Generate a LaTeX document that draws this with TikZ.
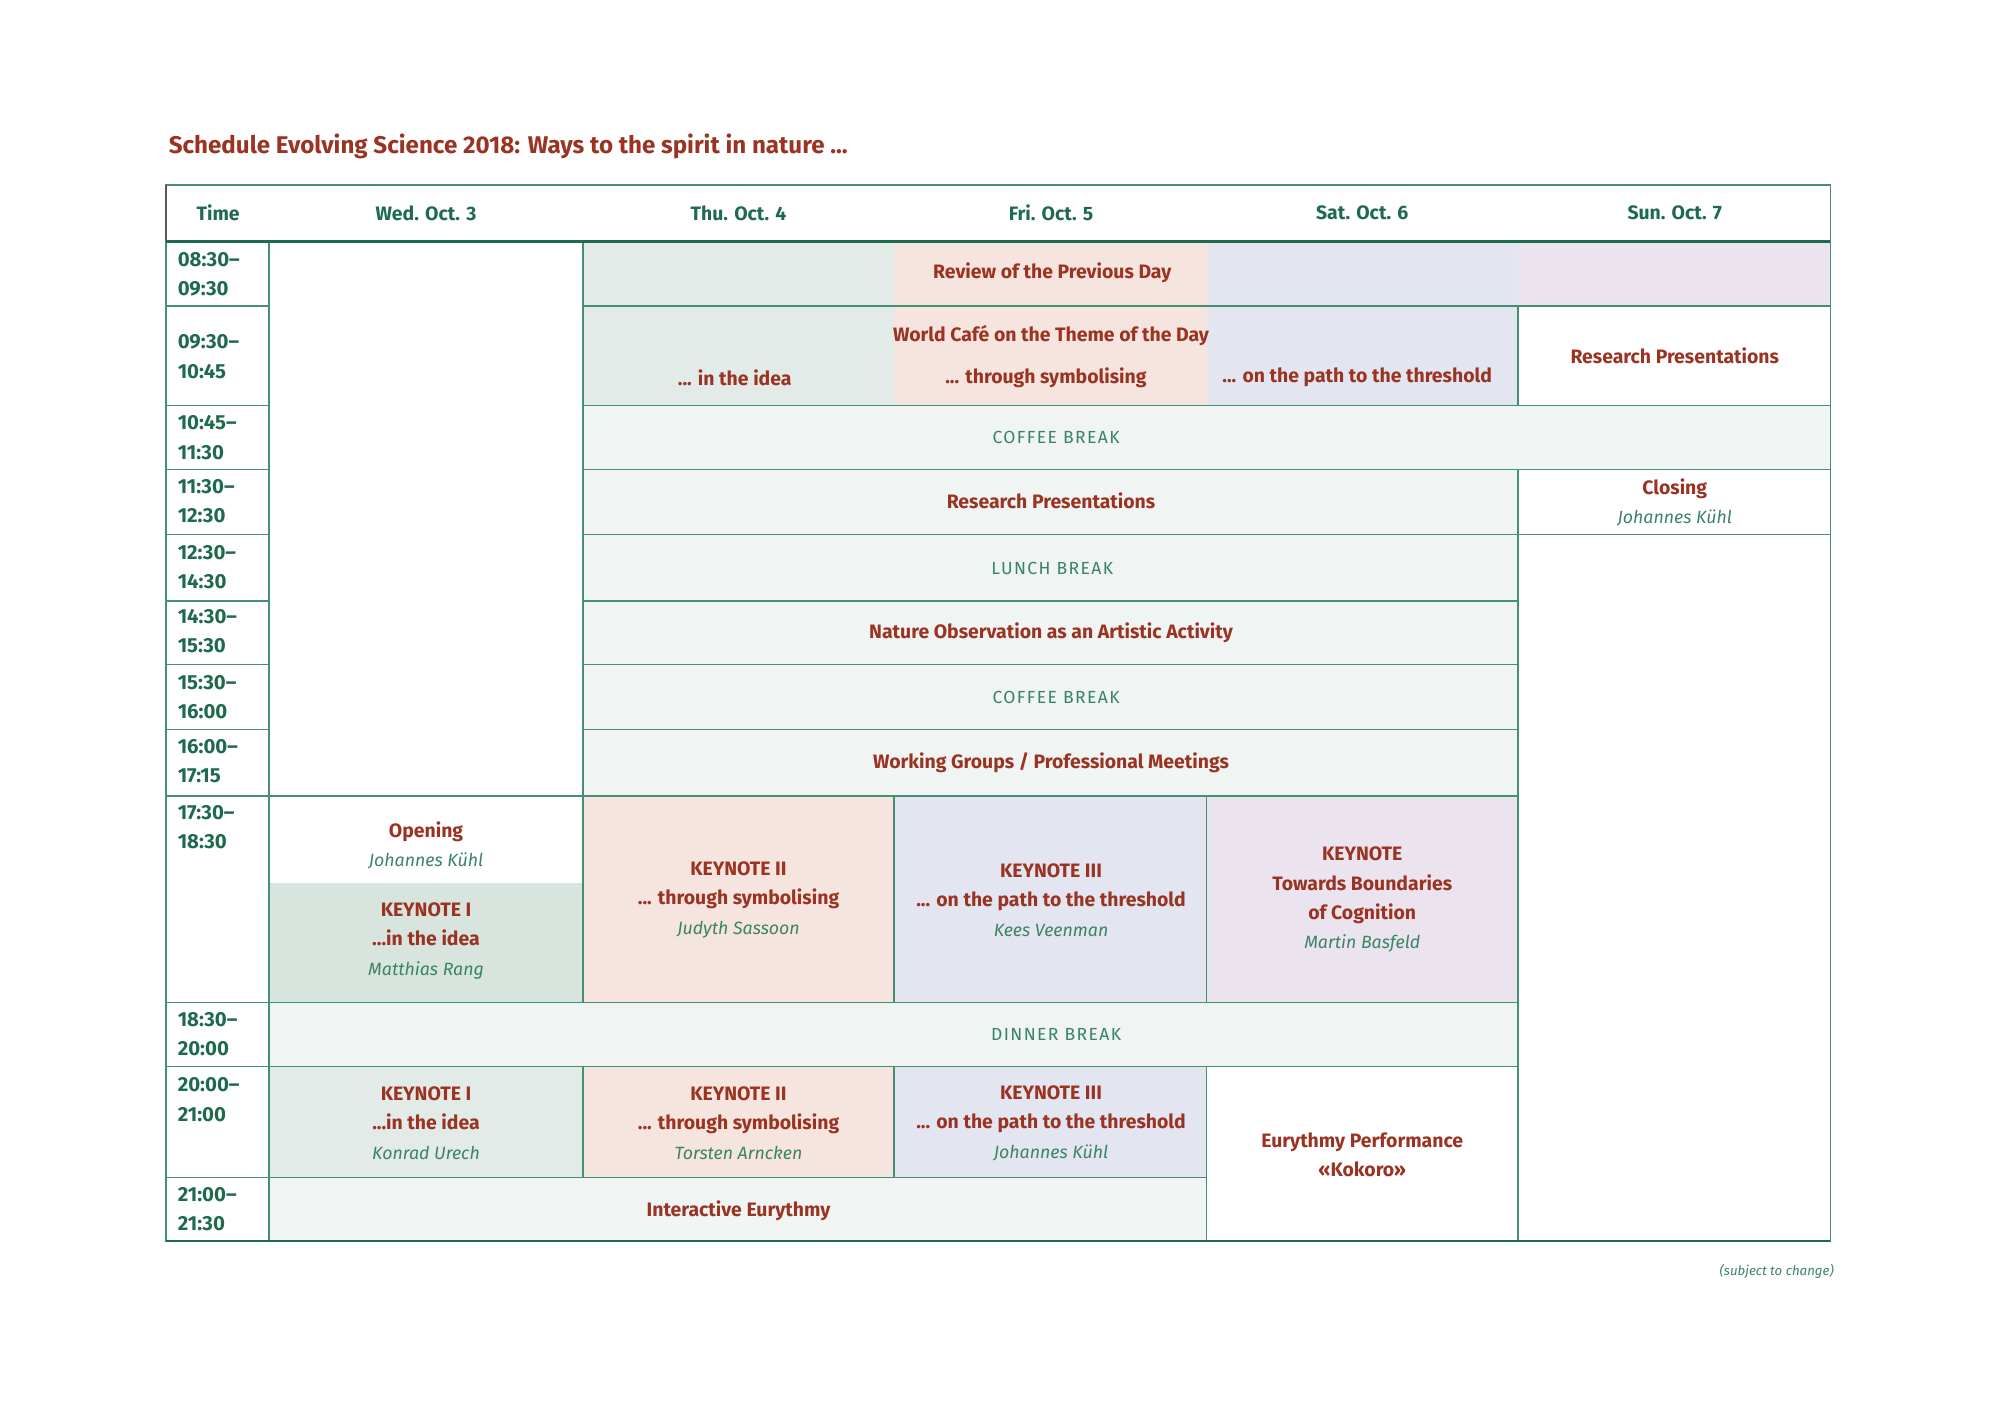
\documentclass[tikz,border=0pt]{standalone}
\usepackage{fontspec}
\setmainfont{Fira Sans}
\newfontfamily\pausefont{Fira Sans}[LetterSpace=8]
\usepackage{tikz}

\definecolor{gridgreen}{HTML}{458F75}
\definecolor{headgreen}{HTML}{1E6A4C}
\definecolor{textred}{HTML}{9A3322}
\definecolor{textgreen}{HTML}{3A8466}
\definecolor{ideafill}{HTML}{E2EBE7}
\definecolor{keyonefill}{HTML}{D8E4DE}
\definecolor{symbfill}{HTML}{F6E4DE}
\definecolor{pathfill}{HTML}{E3E6F0}
\definecolor{cognfill}{HTML}{EBE3ED}
\definecolor{breakfill}{HTML}{F0F4F2}

\newcommand\cellfont{\fontsize{8.2}{12.4}\selectfont}
\newcommand\spkr[1]{{\fontsize{7.5}{12.4}\selectfont\color{textgreen}\mdseries\itshape #1}}

\begin{document}
\begin{tikzpicture}
[
x=0.018941cm, y=-0.018941cm,
every node/.style={inner sep=0pt, align=center, font=\cellfont},
grid/.style={draw=gridgreen, line width=0.65pt},
head/.style={text=headgreen, font=\cellfont\bfseries},
hour/.style={text=headgreen, anchor=west, align=left, font=\fontsize{8.6}{12.4}\selectfont\bfseries},
event/.style={text=textred, font=\cellfont\bfseries},
pause/.style={text=textgreen, font=\fontsize{7.4}{12}\pausefont}
]
\useasboundingbox (0,0) rectangle (1568,1108.6);

% fills
\fill[ideafill] (457,189) rectangle (701,318);
\fill[symbfill] (701,189) rectangle (946,318);
\fill[pathfill] (946,189) rectangle (1190,318);
\fill[cognfill] (1190,189) rectangle (1435,240);
\fill[breakfill] (457,318) rectangle (1435,368);
\fill[breakfill] (457,368) rectangle (1190,624);
\fill[keyonefill] (211,692) rectangle (457,786);
\fill[symbfill] (457,624) rectangle (701,786);
\fill[pathfill] (701,624) rectangle (946,786);
\fill[cognfill] (946,624) rectangle (1190,786);
\fill[breakfill] (211,786) rectangle (1190,836);
\fill[ideafill] (211,836) rectangle (457,923);
\fill[symbfill] (457,836) rectangle (701,923);
\fill[pathfill] (701,836) rectangle (946,923);
\fill[breakfill] (211,923) rectangle (946,973);

% lines
\foreach \y in {240,318,368,419,471,521,572,624,786,836,923}
  \draw[grid] (130,\y) -- (211,\y);
\foreach \y in {240,318,368,419}
  \draw[grid] (457,\y) -- (1435,\y);
\foreach \y in {471,521,572}
  \draw[grid] (457,\y) -- (1190,\y);
\foreach \y in {624,786,836}
  \draw[grid] (211,\y) -- (1190,\y);
\draw[grid] (211,923) -- (946,923);
\draw[grid] (211,189) -- (211,973);
\draw[grid] (457,189) -- (457,786) (457,836) -- (457,923);
\draw[grid] (701,624) -- (701,786) (701,836) -- (701,923);
\draw[grid] (946,624) -- (946,786) (946,836) -- (946,973);
\draw[grid] (1190,240) -- (1190,318) (1190,368) -- (1190,973);
\draw[grid] (130,145) rectangle (1435,973);
\draw[gray!70!black, line width=0.65pt] (130,145) -- (130,189);
\draw[headgreen, line width=1.3pt] (130,189) -- (1435,189);
\draw[headgreen, line width=1pt] (130,973) -- (1435,973);

% title
\node (title) [anchor=west, text=textred, font=\fontsize{10.2}{12}\selectfont\bfseries] at (132,115)
  {Schedule Evolving Science 2018: Ways to the spirit in nature ...};

% header
\node (h-time) [head] at (171,167) {Time};
\node (h-wed) [head] at (334,167) {Wed. Oct. 3};
\node (h-thu) [head] at (579,167) {Thu. Oct. 4};
\node (h-fri) [head] at (824,167) {Fri. Oct. 5};
\node (h-sat) [head] at (1068,167) {Sat. Oct. 6};
\node (h-sun) [head] at (1313,167) {Sun. Oct. 7};

% times
\node (t1) [hour] at (139,215) {08:30--\\09:30};
\node (t2) [hour] at (139,279.5) {09:30--\\10:45};
\node (t3) [hour] at (139,343) {10:45--\\11:30};
\node (t4) [hour] at (139,393) {11:30--\\12:30};
\node (t5) [hour] at (139,444.5) {12:30--\\14:30};
\node (t6) [hour] at (139,495) {14:30--\\15:30};
\node (t7) [hour] at (139,546.5) {15:30--\\16:00};
\node (t8) [hour] at (139,596.5) {16:00--\\17:15};
\node (t9) [hour] at (139,648.5) {17:30--\\18:30};
\node (t10) [hour] at (139,811) {18:30--\\20:00};
\node (t11) [hour] at (139,862) {20:00--\\21:00};
\node (t12) [hour] at (139,948) {21:00--\\21:30};

% morning
\node (review) [event] at (825,214) {Review of the Previous Day};
\node (cafe) [event] at (824,263) {World Café on the Theme of the Day};
\node (cafe-thu) [event] at (576,296) {... in the idea};
\node (cafe-fri) [event] at (820,296) {... through symbolising};
\node (cafe-sat) [event] at (1064,296) {... on the path to the threshold};
\node (research-sun) [event] at (1313,279) {Research Presentations};
\node (coffee1) [pause] at (828,343) {COFFEE BREAK};
\node (research) [event] at (824,393) {Research Presentations};
\node (closing) [event] at (1313,394) {Closing\\ \spkr{Johannes Kühl}};
\node (lunch) [pause] at (825,446) {LUNCH BREAK};
\node (nature) [event] at (824,496) {Nature Observation as an Artistic Activity};
\node (coffee2) [pause] at (828,547) {COFFEE BREAK};
\node (groups) [event] at (824,598) {Working Groups / Professional Meetings};

% evening
\node (opening) [event] at (334,663) {Opening\\ \spkr{Johannes Kühl}};
\node (key1a) [event] at (334,737.5) {KEYNOTE I\\...in the idea\\ \spkr{Matthias Rang}};
\node (key2a) [event] at (579,705.5) {KEYNOTE II\\... through symbolising\\ \spkr{Judyth Sassoon}};
\node (key3a) [event] at (824,705.5) {KEYNOTE III\\... on the path to the threshold\\ \spkr{Kees Veenman}};
\node (key4) [event] at (1068,705.5) {KEYNOTE\\Towards Boundaries\\of Cognition\\ \spkr{Martin Basfeld}};
\node (dinner) [pause] at (828,811) {DINNER BREAK};
\node (key1b) [event] at (334,880.5) {KEYNOTE I\\...in the idea\\ \spkr{Konrad Urech}};
\node (key2b) [event] at (579,880.5) {KEYNOTE II\\... through symbolising\\ \spkr{Torsten Arncken}};
\node (key3b) [event] at (824,880.5) {KEYNOTE III\\... on the path to the threshold\\ \spkr{Johannes Kühl}};
\node (eurythmy) [event] at (1068,905.5) {Eurythmy Performance\\«Kokoro»};
\node (interactive) [event] at (579,949) {Interactive Eurythmy};

\node (note) [anchor=east, text=textgreen, font=\fontsize{5.6}{6}\selectfont\itshape] at (1438,997) {(subject to change)};
\end{tikzpicture}
\end{document}
